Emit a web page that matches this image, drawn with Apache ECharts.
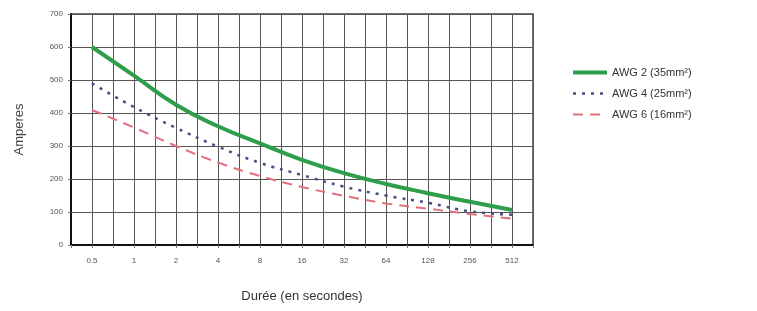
<!DOCTYPE html>
<html>
<head>
<meta charset="utf-8">
<script src="https://cdn.jsdelivr.net/npm/echarts@6/dist/echarts.min.js"></script>
<style>
  html, body { margin: 0; padding: 0; background: #fff; }
  #chart { width: 757px; height: 311px; }
</style>
</head>
<body>
<div id="chart"></div>
<script>
// durées (secondes) sur l'axe x
const durations = ['0.5', '1', '2', '4', '8', '16', '32', '64', '128', '256', '512']
// courants
const awg2 = [600, 513, 425, 360, 308, 258, 218, 185, 157, 131, 106]
const awg4 = [490, 418, 355, 298, 249, 212, 177, 150, 128, 102, 92]
const awg6 = [409, 356, 300, 250, 209, 176, 149, 126, 110, 94, 80]

const toPoints = arr => arr.map((v, i) => [i, v])

const chart = echarts.init(document.getElementById('chart'))
const font = 'Liberation Sans, Arial, sans-serif'

chart.setOption({
  animation: false,
  textStyle: { fontFamily: font },
  grid: {
    left: 71, right: 224, top: 14, bottom: 66,
    show: true,
    borderColor: '#444',
    borderWidth: 1.5
  },
  legend: {
    orient: 'vertical',
    left: 566,
    top: 62,
    itemWidth: 34,
    itemHeight: 12,
    itemGap: 10,
    itemStyle: { opacity: 0 },
    textStyle: { fontSize: 11, color: '#333', fontFamily: font },
    data: [
      { name: 'AWG 2 (35mm²)', lineStyle: { width: 4 } },
      { name: 'AWG 4 (25mm²)', lineStyle: { width: 2.5 } },
      { name: 'AWG 6 (16mm²)', lineStyle: { width: 2 } }
    ]
  },
  xAxis: {
    type: 'value',
    min: -0.5,
    max: 10.5,
    interval: 0.5,
    name: 'Durée (en secondes)',
    nameLocation: 'middle',
    nameGap: 45,
    nameTextStyle: { fontSize: 13, color: '#333' },
    axisLine: { onZero: false, lineStyle: { color: '#111', width: 2 } },
    axisTick: { show: true, length: 3, lineStyle: { color: '#777' } },
    axisLabel: {
      fontSize: 8,
      color: '#555',
      margin: 12,
      showMinLabel: true,
      showMaxLabel: true,
      formatter: v => Number.isInteger(v) ? durations[v] : ''
    },
    splitLine: { show: true, lineStyle: { color: '#555', width: 1 } }
  },
  yAxis: {
    type: 'value',
    min: 0,
    max: 700,
    interval: 100,
    name: 'Amperes',
    nameLocation: 'middle',
    nameGap: 45,
    nameRotate: 90,
    nameTextStyle: { fontSize: 13, color: '#444' },
    axisLine: { show: true, onZero: false, lineStyle: { color: '#111', width: 2 } },
    axisTick: { show: true, length: 3, lineStyle: { color: '#777' } },
    axisLabel: { fontSize: 8, color: '#555', margin: 8 },
    splitLine: { show: true, lineStyle: { color: '#555', width: 1 } }
  },
  series: [
    {
      name: 'AWG 2 (35mm²)',
      type: 'line',
      smooth: 0.5,
      symbol: 'none',
      data: toPoints(awg2),
      lineStyle: { color: '#2f9e4b', width: 4 },
      itemStyle: { color: '#2f9e4b' },
      z: 5
    },
    {
      name: 'AWG 4 (25mm²)',
      type: 'line',
      smooth: 0.5,
      symbol: 'none',
      data: toPoints(awg4),
      lineStyle: { color: '#4a4d85', width: 2.5, type: [3, 6] },
      itemStyle: { color: '#4a4d85' },
      z: 4
    },
    {
      name: 'AWG 6 (16mm²)',
      type: 'line',
      smooth: 0.5,
      symbol: 'none',
      data: toPoints(awg6),
      lineStyle: { color: '#e0707c', width: 2, type: [10, 7] },
      itemStyle: { color: '#e0707c' },
      z: 3
    }
  ]
})
</script>
</body>
</html>
